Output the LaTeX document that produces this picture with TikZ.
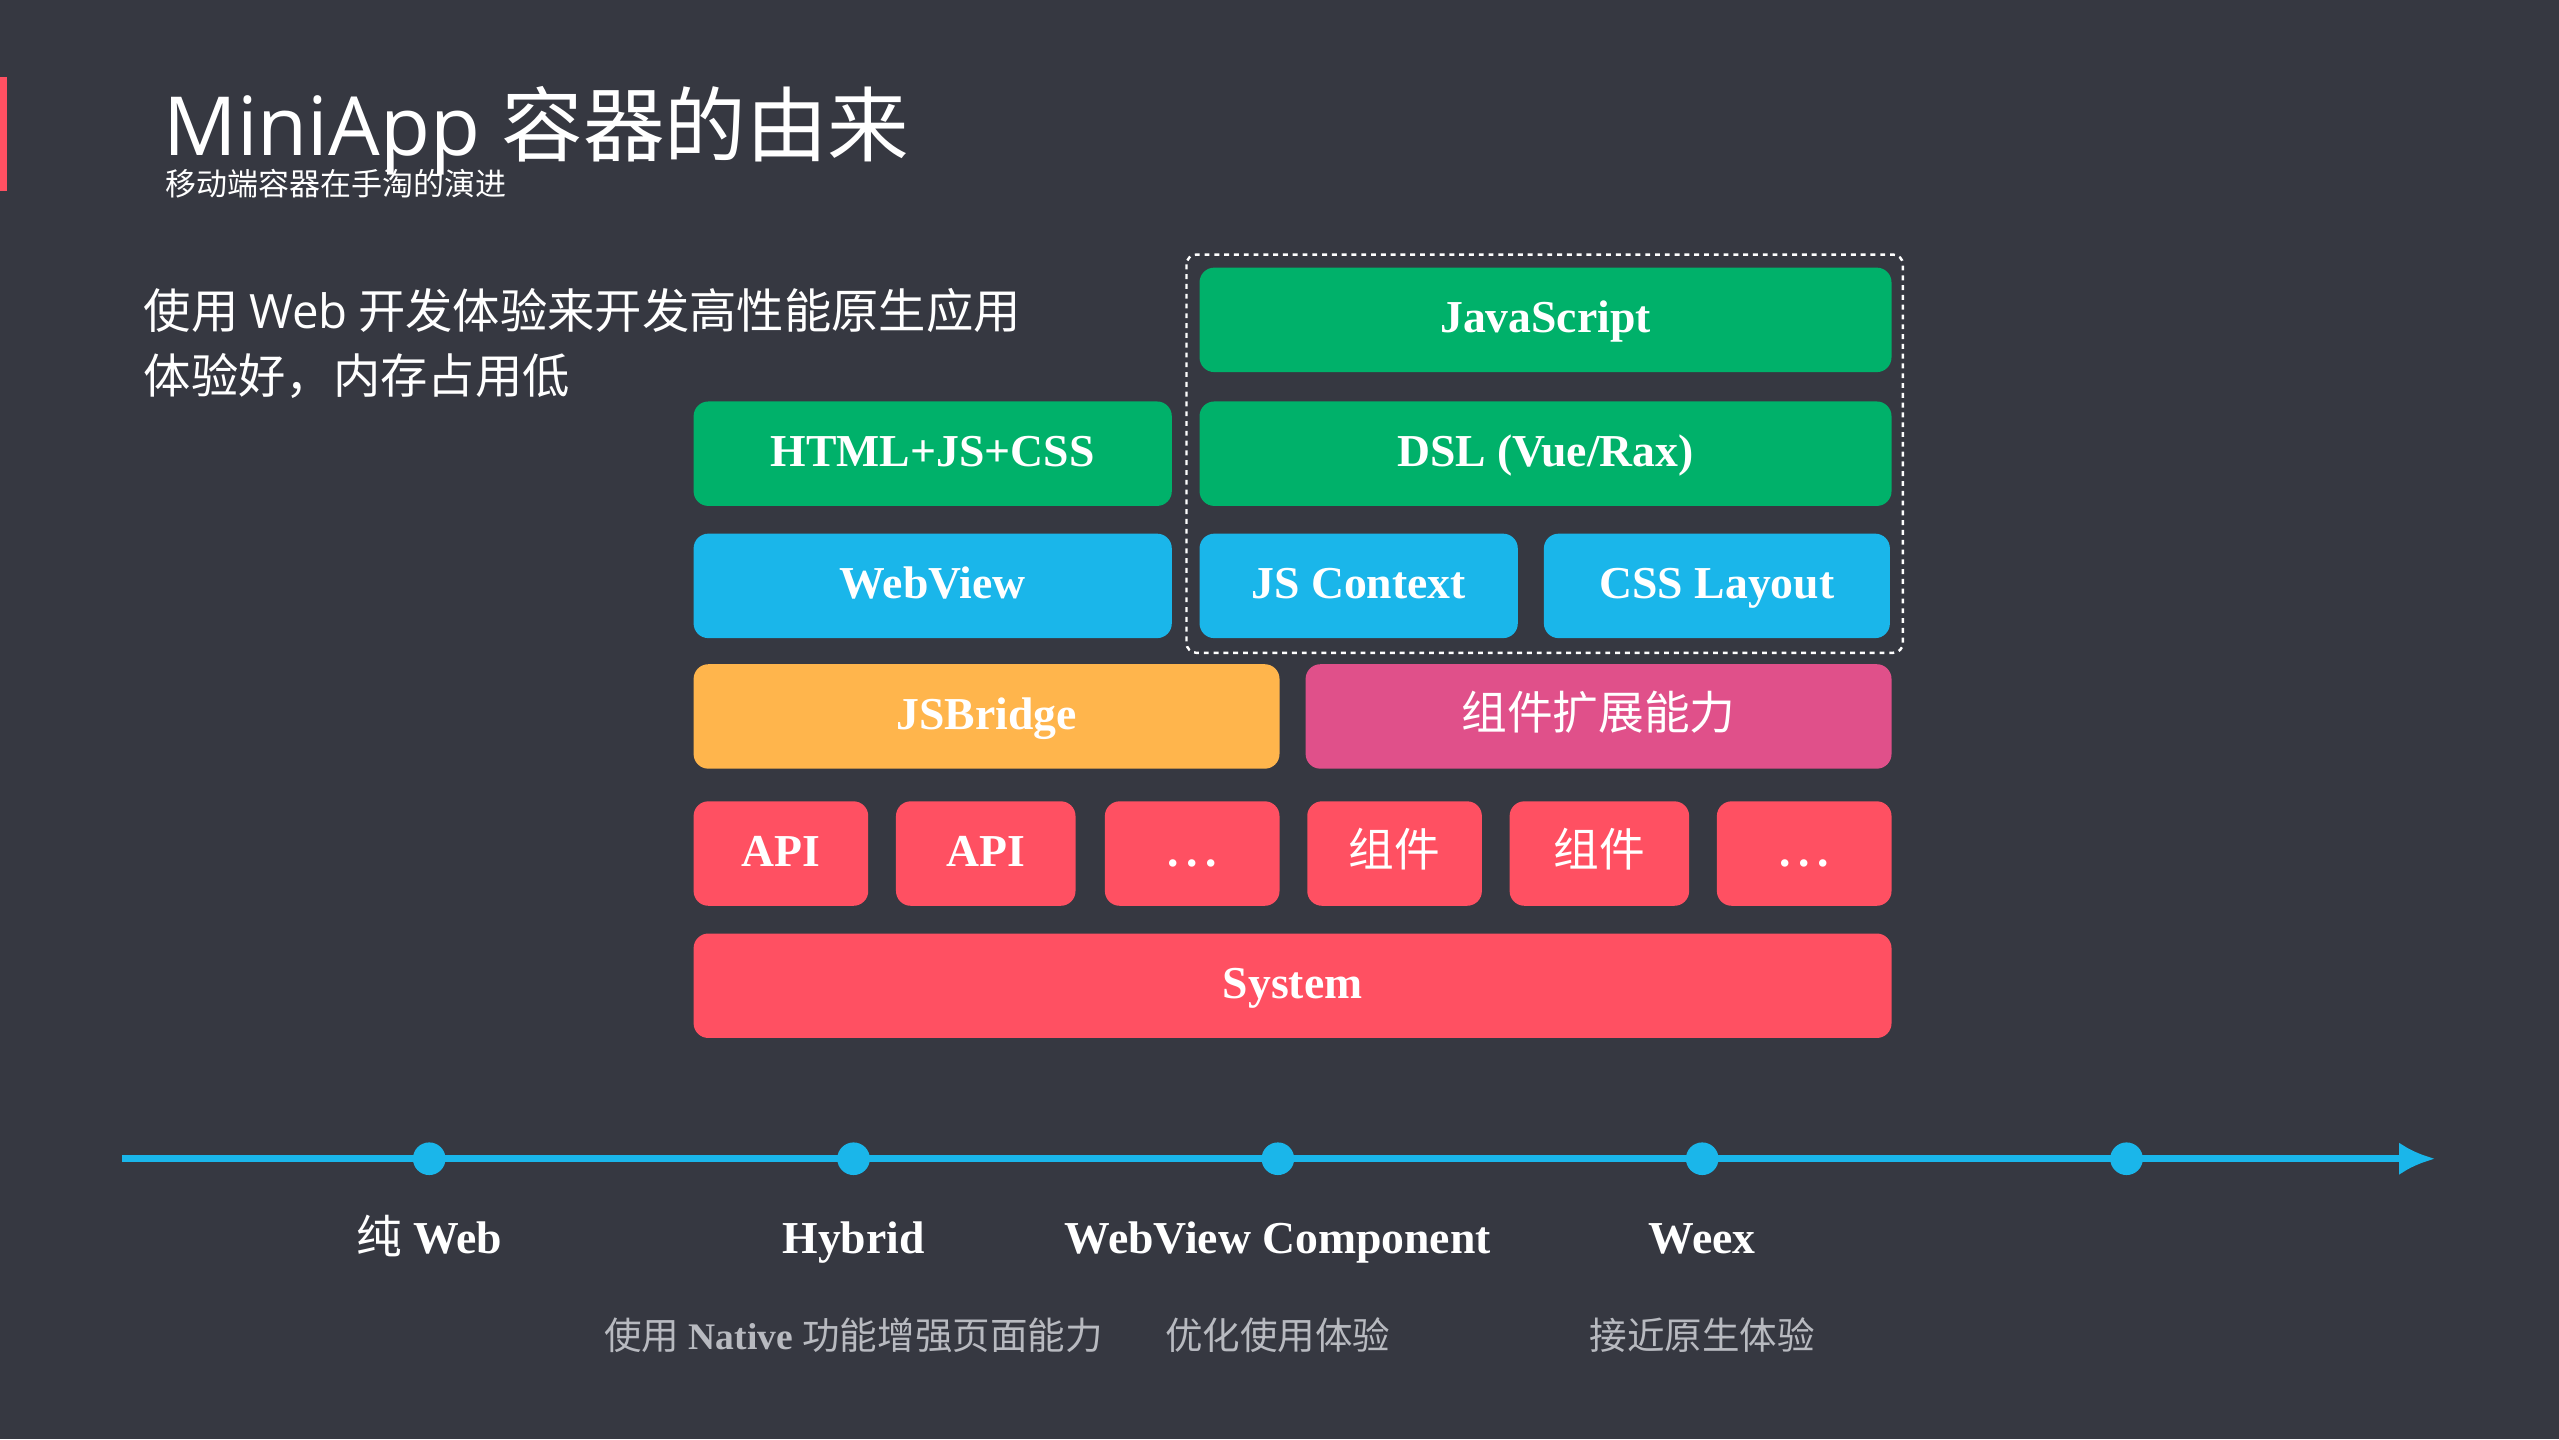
\documentclass[tikz,border=0pt]{standalone}
\usepackage{fontspec}
\usetikzlibrary{arrows.meta}
\setmainfont{Liberation Serif}
\newfontfamily\cjk{Noto Sans CJK SC}
\newfontfamily\tsans{Open Sans}
\definecolor{bg}{HTML}{363841}
\definecolor{cgreen}{HTML}{00B16A}
\definecolor{cblue}{HTML}{1AB6EA}
\definecolor{corange}{HTML}{FFB54C}
\definecolor{cpink}{HTML}{E0508A}
\definecolor{cred}{HTML}{FF5062}
\definecolor{cgrey}{HTML}{B8BAC0}
\newcommand{\tdots}{.\,.\,.}
\tikzset{
 blk/.style={text=white,font=\fontsize{28}{30}\selectfont\bfseries,text height=20pt,text depth=6pt},
 dot/.style={circle,fill=cblue,minimum size=20pt,inner sep=0pt},
 tl/.style={text=white,font=\fontsize{28}{30}\selectfont\bfseries,anchor=base,inner sep=0pt},
 sub/.style={text=cgrey,font=\fontsize{23}{26}\selectfont,anchor=base,inner sep=0pt},
}
\begin{document}
\begin{tikzpicture}[x=1pt,y=-1pt]
\fill[bg] (0,0) rectangle (1568,882);
\useasboundingbox (0,0) rectangle (1568,882);
\fill[cred] (0,47) rectangle (4,117);
\node[anchor=base west,text=white,inner sep=0,font=\tsans\fontsize{50}{52}\selectfont] (title) at (100,95) {MiniApp {\cjk 容器的由来}};
\node[anchor=base west,text=white,inner sep=0,font=\cjk\fontsize{19}{21}\selectfont] (subt) at (101,120) {移动端容器在手淘的演进};
\node[anchor=base west,text=white,inner sep=0,font=\cjk\fontsize{29}{31}\selectfont] (l1) at (88,201) {使用 {\tsans Web} 开发体验来开发高性能原生应用};
\node[anchor=base west,text=white,inner sep=0,font=\cjk\fontsize{29}{31}\selectfont] (l2) at (88,241) {体验好，内存占用低};
\draw[white,dashed,line width=1.5pt,rounded corners=6pt] (727,156) rectangle (1166,400);
\foreach \xa/\ya/\xb/\yb/\c/\n/\t in {
 735/164/1159/228/cgreen/js/JavaScript,
 425/246/718/310/cgreen/html/HTML+JS+CSS,
 735/246/1159/310/cgreen/dsl/{DSL (Vue/Rax)},
 425/327/718/391/cblue/wv/WebView,
 735/327/930/391/cblue/jsc/JS Context,
 946/327/1158/391/cblue/cssl/CSS Layout,
 425/407/784/471/corange/jsb/JSBridge,
 800/407/1159/471/cpink/ext/{\cjk\mdseries 组件扩展能力},
 425/491/532/555/cred/api1/API,
 549/491/659/555/cred/api2/API,
 677/491/784/555/cred/dotsa/\tdots,
 801/491/908/555/cred/c1/{\cjk\mdseries 组件},
 925/491/1035/555/cred/c2/{\cjk\mdseries 组件},
 1052/491/1159/555/cred/dotsb/\tdots,
 425/572/1159/636/cred/sys/System}
{\fill[\c,rounded corners=9pt] (\xa,\ya) rectangle (\xb,\yb);
 \node[blk] (\n) at ({(\xa+\xb)/2},{(\ya+\yb)/2+1}) {\t};}
\coordinate (ts) at (75,710);
\coordinate (te) at (1492,710);
\draw[cblue,line width=4pt,-{Latex[length=22pt,width=20pt]}] (ts) -- (te);
\foreach \x/\n in {263/d1,523/d2,783/d3,1043/d4,1303/d5} \node[dot] (\n) at (\x,710) {};
\node[tl] (t1) at (263,768) {{\cjk\mdseries 纯} Web};
\node[tl] (t2) at (523,768) {Hybrid};
\node[tl] (t3) at (783,768) {WebView Component};
\node[tl] (t4) at (1043,768) {Weex};
\node[sub] (s2) at (523,827) {{\cjk 使用} \textbf{Native} {\cjk 功能增强页面能力}};
\node[sub] (s3) at (783,827) {\cjk 优化使用体验};
\node[sub] (s4) at (1043,827) {\cjk 接近原生体验};
\end{tikzpicture}
\end{document}
